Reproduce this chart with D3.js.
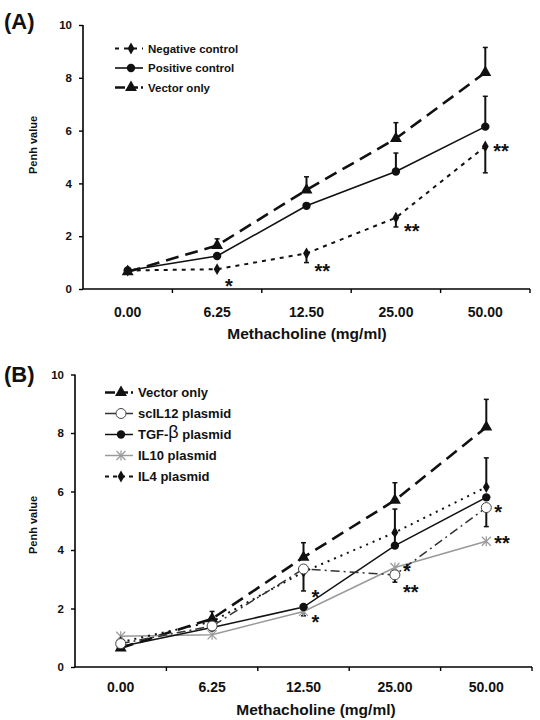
<!DOCTYPE html>
<html><head><meta charset="utf-8">
<script src="https://cdn.jsdelivr.net/npm/d3@7/dist/d3.min.js"></script>
<style>body{margin:0;background:#fff}svg{display:block;font-family:Arial,"Liberation Sans",sans-serif}</style>
</head><body><svg id="c" width="540" height="720"></svg>
<script>
const categories = ["0.00","6.25","12.50","25.00","50.00"];
const yTicks = [0,2,4,6,8,10];
// Panel A
const negA = [0.7,0.75,1.35,2.7,5.4];
const negAErr = [0,0,-0.35,-0.35,-1.0];
const posA = [0.7,1.25,3.15,4.45,6.15];
const posAErr = [0,0,0,0.7,1.15];
const vecA = [0.65,1.65,3.75,5.7,8.2];
const vecAErr = [0,0.25,0.5,0.6,0.95];
const starsA = [["6.25",0.27,"*"],["12.50",0.85,"**"],["25.00",2.35,"**"],["50.00",5.4,"**"]];
// Panel B
const vecB = [0.65,1.65,3.75,5.7,8.2];
const vecBErr = [0,0.25,0.5,0.6,0.95];
const il12B = [0.8,1.4,3.35,3.15,5.45];
const il12BErr = [0,0,0,-0.25,-0.65];
const tgfB = [0.7,1.35,2.05,4.15,5.8];
const tgfBErr = [0,0,-0.3,1.25,0];
const il10B = [1.05,1.1,1.9,3.4,4.3];
const il10BErr = [0,0,0,0,0];
const il4B = [0.85,1.55,3.25,4.6,6.15];
const il4BErr = [0,0,-0.65,0,1.0];
const starsB = [["12.50",2.55,"*"],["12.50",1.7,"*"],["25.00",3.45,"*"],["25.00",2.72,"**"],["50.00",5.45,"*"],["50.00",4.4,"**"]];

const svg = d3.select("#c");

function marker(g, type, x, y, color) {
  if (type === "tri") {
    g.append("path").attr("d", d3.symbol(d3.symbolTriangle, 62)()).attr("transform", `translate(${x},${y})`).attr("fill", color);
  } else if (type === "circ") {
    g.append("circle").attr("cx", x).attr("cy", y).attr("r", 4.2).attr("fill", color);
  } else if (type === "ocirc") {
    g.append("circle").attr("cx", x).attr("cy", y).attr("r", 5).attr("fill", "#fff").attr("stroke", "#444").attr("stroke-width", 1);
  } else if (type === "dia") {
    g.append("path").attr("d", d3.symbol(d3.symbolDiamond, 40)()).attr("transform", `translate(${x},${y})`).attr("fill", color);
  } else if (type === "star") {
    g.append("path").attr("d", d3.symbol(d3.symbolTimes, 55)()).attr("transform", `translate(${x},${y})`).attr("stroke", color).attr("stroke-width", 1.2).attr("fill", "none");
    g.append("line").attr("x1", x).attr("x2", x).attr("y1", y-5).attr("y2", y+5).attr("stroke", color).attr("stroke-width", 1.2);
  }
}

function panel(cfg) {
  const x = d3.scaleBand().domain(categories).range([cfg.x0, cfg.x1]);
  const y = d3.scaleLinear().domain([0, 10]).range([cfg.yb, cfg.yt]);
  const g = svg.append("g");
  const ya = g.append("g").attr("transform", `translate(${cfg.x0},0)`)
    .call(d3.axisLeft(y).tickValues(yTicks).tickSize(4).tickPadding(7).tickFormat(d3.format("d")));
  ya.select(".domain").attr("stroke", "#000").attr("stroke-width", 1.6).attr("d", `M0,${cfg.yb}V${cfg.yt}`);
  ya.selectAll(".tick line").attr("stroke-width", 1.4);
  ya.selectAll("text").attr("font-size", 11.5).attr("font-weight", "bold").attr("fill", "#111");
  const xa = g.append("g").attr("transform", `translate(0,${cfg.yb})`)
    .call(d3.axisBottom(x).tickSize(0).tickPadding(0));
  xa.select(".domain").attr("stroke", "#000").attr("stroke-width", 1.6).attr("d", `M${cfg.x0},0H${cfg.x1}`);
  xa.selectAll(".tick text").attr("y", cfg.tickLabY).attr("font-size", 14).attr("font-weight", "bold").attr("fill", "#111");
  g.selectAll(".bt").data(categories.slice(1).concat(["_end"])).enter().append("line")
    .attr("x1", d => d === "_end" ? cfg.x1 : x(d)).attr("x2", d => d === "_end" ? cfg.x1 : x(d))
    .attr("y1", cfg.yb).attr("y2", cfg.yb + 4).attr("stroke", "#000").attr("stroke-width", 1.4);
  g.append("text").attr("x", cfg.xTitleX).attr("y", cfg.xTitleY).attr("text-anchor", "middle")
    .attr("font-size", 15.5).attr("font-weight", "bold").attr("fill", "#111").text("Methacholine (mg/ml)");
  g.append("text").attr("transform", `translate(${cfg.yTitleX},${cfg.yTitleY}) rotate(-90)`).attr("text-anchor", "middle")
    .attr("font-size", 11).attr("font-weight", "bold").attr("fill", "#111").text("Penh value");
  g.append("text").attr("x", 4).attr("y", cfg.labelY).attr("font-size", 22).attr("font-weight", "bold").attr("fill", "#111").text(cfg.label);

  const cx = c => x(c) + x.bandwidth() / 2;
  cfg.series.forEach(s => {
    s.vals.forEach((v, i) => {
      const e = s.err[i];
      if (!e) return;
      const X = cx(categories[i]);
      g.append("line").attr("x1", X).attr("x2", X).attr("y1", y(v)).attr("y2", y(v + e)).attr("stroke", "#111").attr("stroke-width", 2);
      g.append("line").attr("x1", X - 2.5).attr("x2", X + 2.5).attr("y1", y(v + e)).attr("y2", y(v + e)).attr("stroke", "#111").attr("stroke-width", 1.5);
    });
  });
  const line = d3.line().x((d, i) => cx(categories[i])).y(d => y(d));
  cfg.series.forEach(s => {
    g.append("path").attr("d", line(s.vals)).attr("fill", "none").attr("stroke", s.color)
      .attr("stroke-width", s.w).attr("stroke-dasharray", s.dash || null);
  });
  cfg.series.forEach(s => {
    s.vals.forEach((v, i) => marker(g, s.mk, cx(categories[i]), y(v), s.color));
  });
  cfg.stars.forEach(([c, v, t]) => {
    g.append("text").attr("x", cx(c) + 8).attr("y", y(v) + 11.5).attr("font-size", 20).attr("font-weight", "bold").attr("fill", "#111").text(t);
  });
  cfg.series.slice().sort((a, b) => a.lo - b.lo).forEach((s, k) => {
    const ly = cfg.legY + k * cfg.legStep;
    const lx0 = cfg.legX, lx1 = cfg.legX + 28;
    g.append("line").attr("x1", lx0).attr("x2", lx1).attr("y1", ly).attr("y2", ly).attr("stroke", s.color)
      .attr("stroke-width", s.w).attr("stroke-dasharray", s.legDash || null);
    marker(g, s.mk, (lx0 + lx1) / 2 + 2, ly, s.color);
    const t = g.append("text").attr("x", lx1 + 5).attr("y", ly + 4).attr("font-size", cfg.legFont).attr("font-weight", "bold").attr("fill", "#111");
    if (s.beta) {
      t.append("tspan").text("TGF-");
      t.append("tspan").attr("font-size", cfg.legFont + 5).attr("font-weight", "normal").attr("dy", -1).text("β");
      t.append("tspan").attr("dy", 1).text(" plasmid");
    } else t.text(s.name);
  });
}

panel({
  label: "(A)", labelY: 29, x0: 83, x1: 530, yb: 289, yt: 25, tickLabY: 18, xTitleX: 307, xTitleY: 339,
  yTitleX: 37, yTitleY: 145, legX: 115, legY: 48.5, legStep: 19.5, legFont: 11.5,
  series: [
    {name: "Negative control", lo: 0, vals: negA, err: negAErr, color: "#111", w: 2, dash: "4,5", legDash: "4,5", mk: "dia"},
    {name: "Positive control", lo: 1, vals: posA, err: posAErr, color: "#111", w: 1.6, mk: "circ"},
    {name: "Vector only", lo: 2, vals: vecA, err: vecAErr, color: "#111", w: 2.6, dash: "13,7", legDash: "10,3", mk: "tri"}
  ],
  stars: starsA
});
panel({
  label: "(B)", labelY: 382, x0: 75, x1: 532, yb: 667, yt: 374.5, tickLabY: 15, xTitleX: 316, xTitleY: 715,
  yTitleX: 37, yTitleY: 525, legX: 105, legY: 392.5, legStep: 21, legFont: 13,
  series: [
    {name: "Vector only", lo: 0, vals: vecB, err: vecBErr, color: "#111", w: 2.6, dash: "13,7", legDash: "10,3", mk: "tri"},
    {name: "IL10 plasmid", lo: 3, vals: il10B, err: il10BErr, color: "#999", w: 1.5, mk: "star"},
    {name: "TGF-β plasmid", lo: 2, beta: true, vals: tgfB, err: tgfBErr, color: "#111", w: 1.5, mk: "circ"},
    {name: "IL4 plasmid", lo: 4, vals: il4B, err: il4BErr, color: "#111", w: 2, dash: "2,5", legDash: "4,4", mk: "dia"},
    {name: "scIL12 plasmid", lo: 1, vals: il12B, err: il12BErr, color: "#333", w: 1.5, dash: "9,4,2,4", legDash: "12,4", mk: "ocirc"}
  ],
  stars: starsB
});
</script></body></html>
